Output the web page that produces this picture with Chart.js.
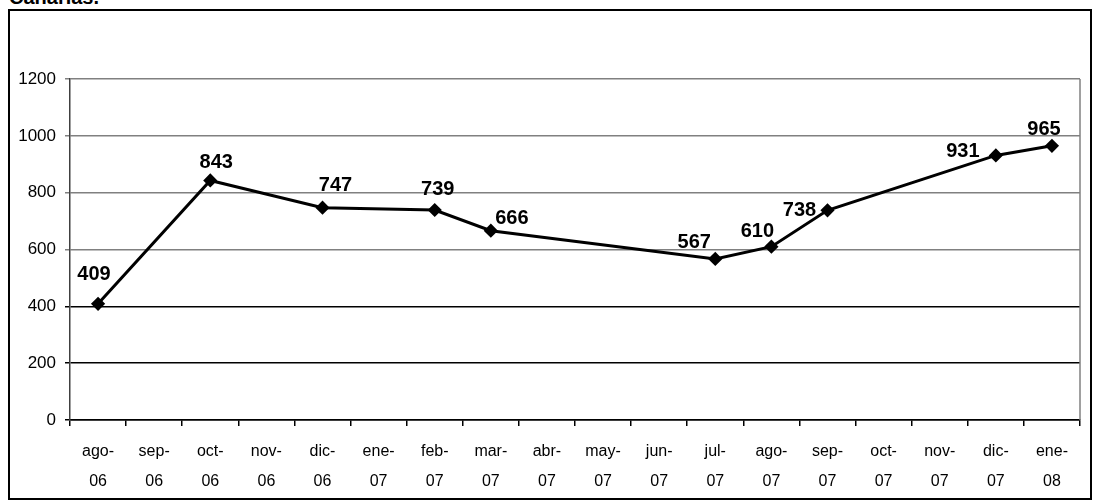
<!DOCTYPE html>
<html>
<head>
<meta charset="utf-8">
<script src="https://cdn.jsdelivr.net/npm/chart.js@4/dist/chart.umd.min.js"></script>
<style>
  body{margin:0;background:#fff;width:1098px;height:502px;overflow:hidden;position:relative;font-family:"Liberation Sans",Arial,sans-serif;}
  #titulo{position:absolute;left:9px;top:-13px;font-size:20px;line-height:20px;font-weight:bold;color:#000;}
  #caja{position:absolute;left:8px;top:9px;width:1084px;height:491px;border:2px solid #000;box-sizing:border-box;}
  #wrap{position:absolute;left:0;top:0;width:1080px;height:487px;}
</style>
</head>
<body>
<div id="titulo">Canarias.</div>
<div id="caja"><div id="wrap"><canvas id="grafico"></canvas></div></div>
<script>
// meses (eje x)
let meses=[["ago-","06"],["sep-","06"],["oct-","06"],["nov-","06"],["dic-","06"],["ene-","07"],
  ["feb-","07"],["mar-","07"],["abr-","07"],["may-","07"],["jun-","07"],["jul-","07"],
  ["ago-","07"],["sep-","07"],["oct-","07"],["nov-","07"],["dic-","07"],["ene-","08"]];
// valores, null = mes sin dato
let valores=[409,null,843,null,747,null,739,666,null,null,null,567,610,738,null,null,931,965];
let ticksY=[0,200,400,600,800,1000,1200];

// desplazamiento de las etiquetas (dx, dy de la linea base) respecto al punto
let desplazamientos={0:[-4,-24],2:[6,-12],4:[13,-17],6:[3,-15],7:[21,-7],11:[-21,-11],12:[-14,-10],13:[-28,6],16:[-33,2],17:[-8,-11]};

let etiquetas={
  id:"etiquetas",
  afterDatasetsDraw(chart){
    let ctx=chart.ctx;
    let meta=chart.getDatasetMeta(0);
    ctx.save();
    ctx.font="bold 20px 'Liberation Sans', Arial, sans-serif";
    ctx.fillStyle="#000";
    ctx.textAlign="center";
    ctx.textBaseline="alphabetic";
    meta.data.forEach((p,i)=>{
      if(valores[i]==null) return;
      let d=desplazamientos[i]||[0,-12];
      ctx.fillText(valores[i],p.x+d[0],p.y+d[1]);
    });
    ctx.restore();
  }
};

// borde derecho del area del grafico
let bordeDerecho={
  id:"bordeDerecho",
  beforeDatasetsDraw(chart){
    let a=chart.chartArea, ctx=chart.ctx;
    ctx.save();
    ctx.strokeStyle="#808080";
    ctx.lineWidth=1.5;
    ctx.beginPath();
    ctx.moveTo(a.right,a.top);
    ctx.lineTo(a.right,a.bottom);
    ctx.stroke();
    ctx.restore();
  }
};

new Chart(document.getElementById("grafico"),{
  type:"line",
  data:{
    labels:meses,
    datasets:[{
      data:valores,
      borderColor:"#000",
      borderWidth:3,
      backgroundColor:"#000",
      pointStyle:"rectRot",
      pointRadius:5,
      pointBackgroundColor:"#000",
      pointBorderColor:"#000",
      spanGaps:true,
      tension:0
    }]
  },
  options:{
    responsive:true,
    maintainAspectRatio:false,
    animation:false,
    layout:{padding:{left:0,right:10,top:68,bottom:0}},
    plugins:{legend:{display:false},tooltip:{enabled:false}},
    scales:{
      x:{
        offset:true,
        grid:{offset:true,drawOnChartArea:false,tickLength:6,color:"#000",lineWidth:1.5},
        border:{color:"#000",width:1.5},
        ticks:{color:"#000",maxRotation:0,autoSkip:false,padding:11,
          font:{family:"'Liberation Sans', Arial, sans-serif",size:16,lineHeight:1.85}},
        afterFit(s){s.height=78;}
      },
      y:{
        min:0,max:1200,
        afterBuildTicks(s){s.ticks=ticksY.map(v=>({value:v}));},
        grid:{color:c=>c.tick&&c.tick.value<=400?"#000":"#808080",lineWidth:1.5,tickLength:5},
        border:{color:"#404040",width:1.5},
        ticks:{color:"#000",padding:9,callback:v=>String(v),
          font:{family:"'Liberation Sans', Arial, sans-serif",size:17}},
        afterFit(s){s.width=60;}
      }
    }
  },
  plugins:[etiquetas,bordeDerecho]
});
</script>
</body>
</html>
